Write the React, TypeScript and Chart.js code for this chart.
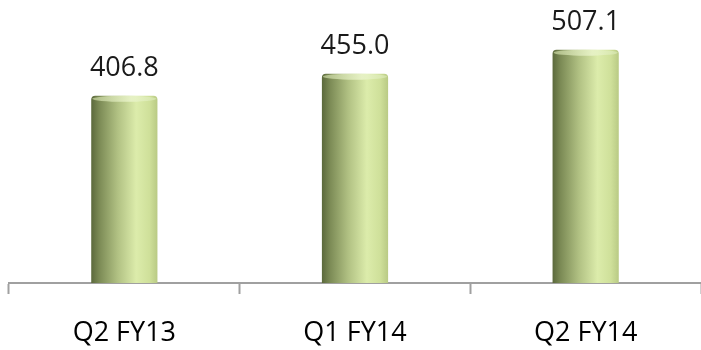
import React, { useEffect, useRef } from "react";
import { Chart, registerables } from "chart.js";

Chart.register(...registerables);

const categories = ["Q2 FY13", "Q1 FY14", "Q2 FY14"];
const values = [406.8, 455.0, 507.1];
const yMin = 0;
const yMax = 600;

const FONT = "'Open Sans', sans-serif";

const cylinderPlugin = {
  id: "cylinder",
  afterDatasetsDraw(chart: any) {
    const ctx = chart.ctx;
    const meta = chart.getDatasetMeta(0);
    meta.data.forEach((bar: any, i: number) => {
      const { x, y, base, width } = bar.getProps(["x", "y", "base", "width"], true);
      const left = x - width / 2;
      const right = x + width / 2;
      const g = ctx.createLinearGradient(left, 0, right, 0);
      g.addColorStop(0, "#5b693c");
      g.addColorStop(0.12, "#7b8a55");
      g.addColorStop(0.4, "#b1c183");
      g.addColorStop(0.68, "#dcecab");
      g.addColorStop(0.88, "#cfe09a");
      g.addColorStop(1, "#b9ca84");
      const capH = 4;
      ctx.save();
      ctx.beginPath();
      ctx.moveTo(left, base);
      ctx.lineTo(left, y + capH);
      ctx.quadraticCurveTo(left, y, left + capH, y);
      ctx.lineTo(right - capH, y);
      ctx.quadraticCurveTo(right, y, right, y + capH);
      ctx.lineTo(right, base);
      ctx.closePath();
      ctx.fillStyle = g;
      ctx.fill();
      const g2 = ctx.createLinearGradient(left, 0, right, 0);
      g2.addColorStop(0, "rgba(200,214,160,0.7)");
      g2.addColorStop(0.6, "rgba(235,245,205,0.8)");
      g2.addColorStop(1, "rgba(220,235,185,0.6)");
      ctx.beginPath();
      ctx.ellipse(x, y + 3, width / 2 - 1, 3, 0, 0, Math.PI * 2);
      ctx.fillStyle = g2;
      ctx.fill();
      ctx.restore();
      ctx.save();
      ctx.fillStyle = "#1a1a1a";
      ctx.font = `27px ${FONT}`;
      ctx.textAlign = "center";
      ctx.textBaseline = "alphabetic";
      ctx.fillText(values[i].toFixed(1), x, y - 20);
      ctx.restore();
    });
  },
};

export default function App() {
  const ref = useRef<HTMLCanvasElement>(null);
  useEffect(() => {
    const chart = new Chart(ref.current!, {
      type: "bar",
      data: {
        labels: categories,
        datasets: [
          {
            data: values,
            backgroundColor: "rgba(0,0,0,0)",
            borderWidth: 0,
            categoryPercentage: 1,
            barPercentage: 0.287,
          },
        ],
      },
      options: {
        animation: false,
        responsive: false,
        maintainAspectRatio: false,
        layout: { padding: { left: 9, right: 0, top: 7, bottom: 0 } },
        plugins: { legend: { display: false }, tooltip: { enabled: false } },
        scales: {
          x: {
            offset: true,
            afterFit: (scale: any) => {
              scale.height = 67;
            },
            grid: {
              offset: true,
              drawOnChartArea: false,
              drawTicks: true,
              tickLength: 11,
              tickWidth: 2,
              color: (c: any) => (c.index === 3 ? "rgba(0,0,0,0)" : "#a0a0a0"),
            },
            border: { display: true, color: "#a0a0a0", width: 2 },
            ticks: {
              color: "#000",
              font: { family: FONT, size: 27 },
              padding: 23,
              maxRotation: 0,
            },
          },
          y: {
            display: false,
            min: yMin,
            max: yMax,
          },
        },
      },
      plugins: [cylinderPlugin],
    });
    return () => chart.destroy();
  }, []);
  return (
    <div style={{ position: "fixed", left: 0, top: 0, width: 701, height: 350, overflow: "hidden", background: "#fff" }}>
      <canvas ref={ref} width={701} height={350} style={{ display: "block" }} />
    </div>
  );
}
